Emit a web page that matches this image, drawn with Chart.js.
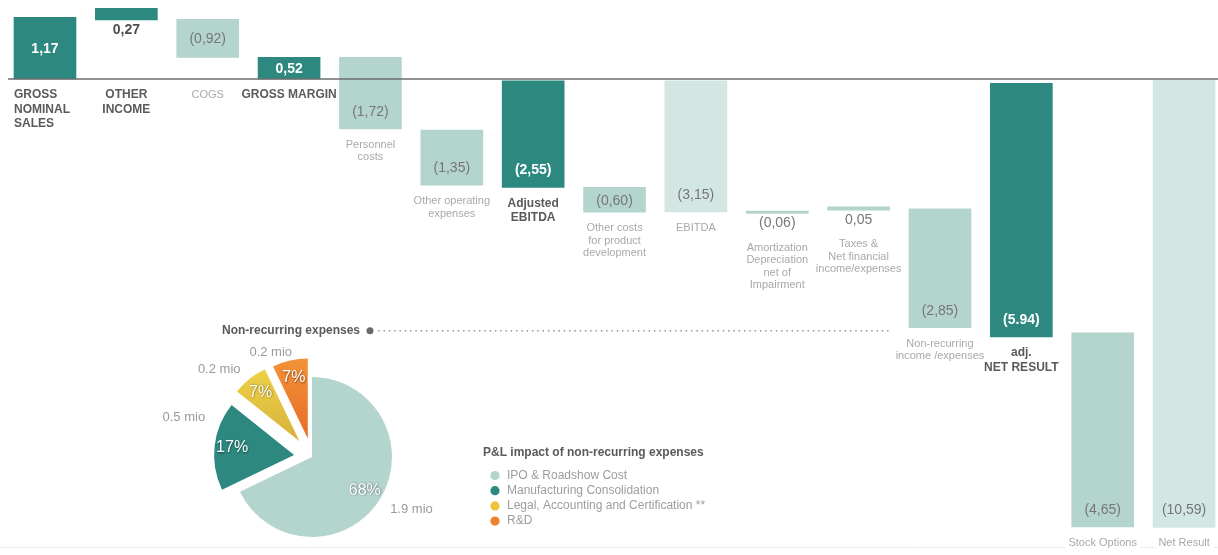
<!DOCTYPE html>
<html><head><meta charset="utf-8">
<script src="https://cdn.jsdelivr.net/npm/chart.js@4.4.1/dist/chart.umd.min.js"></script>
<style>
html,body{margin:0;padding:0;background:#fff;overflow:hidden;}
#wrap{position:relative;width:1218px;height:555px;}
canvas{position:absolute;left:0;top:0;}
#pie{pointer-events:none;}
</style></head><body>
<div id="wrap"><canvas id="main" width="1218" height="555"></canvas><canvas id="pie" width="1218" height="555"></canvas></div>
<script>
// ---------- DATA ----------
const categories = [
  ['GROSS','NOMINAL','SALES'],
  ['OTHER','INCOME'],
  ['COGS'],
  ['GROSS MARGIN'],
  ['Personnel','costs'],
  ['Other operating','expenses'],
  ['Adjusted','EBITDA'],
  ['Other costs','for product','development'],
  ['EBITDA'],
  ['Amortization','Depreciation','net of','Impairment'],
  ['Taxes &','Net financial','income/expenses'],
  ['Non-recurring','income /expenses'],
  ['adj.','NET RESULT'],
  ['Stock Options'],
  ['Net Result']
];
const values = [1.17, 0.27, -0.92, 0.52, -1.72, -1.35, -2.55, -0.60, -3.15, -0.06, 0.05, -2.85, -5.94, -4.65, -10.59];
const valueLabels = ['1,17','0,27','(0,92)','0,52','(1,72)','(1,35)','(2,55)','(0,60)','(3,15)','(0,06)','0,05','(2,85)','(5.94)','(4,65)','(10,59)'];
// bar extents as drawn in the picture (EUR mio)
const barStart = [0, 1.40, 0.51, 0, -1.18, -2.51, -2.56, -3.15, -3.14, -3.18, -3.10, -5.88, -6.10, -10.59, -10.60];
const barEnd   = [1.46, 1.67, 1.41, 0.51, 0.51, -1.21, -0.04, -2.56, -0.04, -3.12, -3.02, -3.07, -0.10, -6.00, -0.03];
const barKind  = ['total','total','cost','total','cost','cost','total','cost','result','cost','cost','cost','total','cost','result'];

const pieLabels  = ['IPO & Roadshow Cost','Manufacturing Consolidation','Legal, Accounting and Certification **','R&D'];
const pieValues  = [1.9, 0.5, 0.2, 0.2];
const piePercent = ['68%','17%','7%','7%'];
const pieAmount  = ['1.9 mio','0.5 mio','0.2 mio','0.2 mio'];

// ---------- STYLE ----------
const FONT = "'Helvetica Neue', Helvetica, Arial, 'Liberation Sans', sans-serif";
const kindColor = {total:'#2d8980', cost:'#b4d5ce', result:'#d2e7e4'};
const pieColors = ['#b4d5ce','#2d8980','#ebc63a','#f0822b'];
const pieGrad = [null, null, ['#f8dc4c','#d6b23a'], ['#f59c3a','#e86c26']];

const waterfallLabels = {
  id:'waterfallLabels',
  afterDatasetsDraw(chart, args, o){
    const ctx = chart.ctx;
    const meta = chart.getDatasetMeta(0);
    const y0 = chart.scales.y.getPixelForValue(0);
    ctx.save();
    // faint bottom line
    ctx.strokeStyle = '#ededed'; ctx.lineWidth = 1;
    ctx.beginPath(); ctx.moveTo(0, o.bottomLine + 0.5); ctx.lineTo(chart.width, o.bottomLine + 0.5); ctx.stroke();
    // zero axis line
    ctx.strokeStyle = '#6e6e6e'; ctx.lineWidth = 1.6;
    ctx.beginPath(); ctx.moveTo(o.axisStart, y0); ctx.lineTo(chart.width, y0); ctx.stroke();

    ctx.textBaseline = 'middle';
    meta.data.forEach((bar, i) => {
      const p = bar.getProps(['x','y','base','width'], true);
      const top = Math.min(p.y, p.base), bottom = Math.max(p.y, p.base);
      const kind = barKind[i];
      const pos = o.valuePos[i];
      let vy;
      if (pos === 'center') vy = (top + bottom) / 2 + 1;
      else if (pos === 'bottom') vy = bottom - 17;
      else vy = bottom + 10;
      // value label
      const inside = pos !== 'below';
      if (inside && kind === 'total') { ctx.fillStyle = '#ffffff'; ctx.font = 'bold 14px ' + FONT; }
      else if (kind === 'total') { ctx.fillStyle = '#4e4e4e'; ctx.font = 'bold 14px ' + FONT; }
      else { ctx.fillStyle = '#767676'; ctx.font = '14px ' + FONT; }
      ctx.textAlign = 'center';
      ctx.fillText(valueLabels[i], p.x, vy);
      // category label
      const bold = kind === 'total';
      const lh = bold ? 14.5 : 12.5;
      let ly;
      if (barStart[i] >= 0) ly = y0 + 16;
      else if (pos === 'below') ly = vy + 24;
      else ly = bottom + 16;
      ctx.font = (bold ? 'bold 12px ' : '11px ') + FONT;
      const left = o.leftAligned.includes(i);
      ctx.textAlign = left ? 'left' : 'center';
      const lx = left ? p.x - p.width / 2 : p.x;
      categories[i].forEach((line, k) => {
        const yy = ly + k * lh;
        const w = ctx.measureText(line).width;
        ctx.fillStyle = '#ffffff';
        if (Math.abs(yy - o.bottomLine) < 8) ctx.fillRect((left ? lx : lx - w/2) - 3, yy - 7, w + 6, 14);
        ctx.fillStyle = bold ? '#5a5a5a' : '#a9a9a9';
        ctx.fillText(line, lx, yy);
      });
    });
    // leader for non-recurring expenses
    const nr = meta.data[o.leaderBar].getProps(['x','y','base','width'], true);
    const ly = Math.max(nr.y, nr.base) + 3;
    ctx.font = 'bold 12px ' + FONT; ctx.fillStyle = '#5a5a5a'; ctx.textAlign = 'right';
    ctx.fillText('Non-recurring expenses', o.leaderStart - 10, ly);
    ctx.fillStyle = '#6a6a6a';
    ctx.beginPath(); ctx.arc(o.leaderStart, ly, 3.5, 0, Math.PI*2); ctx.fill();
    ctx.fillStyle = '#8a8a8a';
    const endX = nr.x - nr.width / 2 - 18;
    for (let x = o.leaderStart + 9; x <= endX; x += 5.3) {
      ctx.beginPath(); ctx.arc(x, ly, 0.85, 0, Math.PI*2); ctx.fill();
    }
    ctx.restore();
  }
};

new Chart(document.getElementById('main'), {
  type: 'bar',
  data: {
    datasets: [{
      data: barStart.map((s, i) => ({x: i, y: [s, barEnd[i]]})),
      backgroundColor: barKind.map(k => kindColor[k]),
      borderWidth: 0,
      barThickness: 62
    }]
  },
  options: {
    responsive: false,
    animation: false,
    layout: {padding: 0},
    scales: {
      x: {type: 'linear', display: false, offset: false, grid: {offset: false}, min: -0.553, max: 14.417},
      y: {display: false, min: -11.253, max: 1.868}
    },
    plugins: {
      legend: {display: false},
      tooltip: {enabled: false},
      waterfallLabels: {
        valuePos: ['center','below','center','center','bottom','bottom','bottom','center','bottom','below','below','bottom','bottom','bottom','bottom'],
        leftAligned: [0],
        axisStart: 8,
        bottomLine: 547,
        leaderBar: 11,
        leaderStart: 370
      }
    }
  },
  plugins: [waterfallLabels]
});

// ---------- PIE ----------
const explodePlugin = {
  id: 'explode',
  beforeDatasetDraw(chart, args, o) {
    args.meta.data.forEach((arc, i) => {
      if (arc._exploded) return;
      const d = o.distances[i] || 0;
      const orig = arc.draw;
      arc.draw = function(ctx, area) {
        const p = this.getProps(['startAngle','endAngle'], true);
        const mid = (p.startAngle + p.endAngle) / 2;
        ctx.save();
        ctx.translate(Math.cos(mid) * d, Math.sin(mid) * d);
        orig.call(this, ctx, area);
        ctx.restore();
      };
      arc._exploded = true;
    });
  }
};

const pieText = {
  id: 'pieText',
  afterDatasetsDraw(chart, args, o) {
    const ctx = chart.ctx;
    const meta = chart.getDatasetMeta(0);
    const dist = chart.options.plugins.explode.distances;
    ctx.save();
    ctx.textAlign = 'center'; ctx.textBaseline = 'middle';
    let cx = 0, cy = 0;
    meta.data.forEach((arc, i) => {
      const p = arc.getProps(['x','y','startAngle','endAngle','outerRadius'], true);
      cx = p.x; cy = p.y;
      const mid = (p.startAngle + p.endAngle) / 2;
      const d = (dist[i] || 0) + 0.78 * p.outerRadius;
      ctx.font = '16px ' + FONT;
      ctx.shadowColor = 'rgba(0,0,0,0.55)'; ctx.shadowBlur = 2; ctx.shadowOffsetX = 0.5; ctx.shadowOffsetY = 0.5;
      ctx.fillStyle = '#ffffff';
      ctx.fillText(piePercent[i], p.x + Math.cos(mid) * d, p.y + Math.sin(mid) * d);
      ctx.shadowColor = 'transparent'; ctx.shadowBlur = 0; ctx.shadowOffsetX = 0; ctx.shadowOffsetY = 0;
      const d2 = (dist[i] || 0) + p.outerRadius + 28;
      const n = o.nudge[i];
      ctx.font = '13px ' + FONT; ctx.fillStyle = '#9a9a9a';
      ctx.fillText(pieAmount[i], p.x + Math.cos(mid) * d2 + n[0], p.y + Math.sin(mid) * d2 + n[1]);
    });
    // legend
    const lx = cx + o.legendDx, ly = cy + o.legendDy;
    ctx.textAlign = 'left';
    ctx.font = 'bold 12px ' + FONT; ctx.fillStyle = '#5a5a5a';
    ctx.fillText('P&L impact of non-recurring expenses', lx, ly);
    pieLabels.forEach((lab, i) => {
      const yy = ly + 22.5 + i * 15.2;
      ctx.fillStyle = pieColors[i];
      ctx.beginPath(); ctx.arc(lx + 12, yy, 4.6, 0, Math.PI * 2); ctx.fill();
      ctx.font = '12px ' + FONT; ctx.fillStyle = '#9d9d9d';
      ctx.fillText(lab, lx + 24, yy);
    });
    ctx.restore();
  }
};

new Chart(document.getElementById('pie'), {
  type: 'pie',
  data: {
    labels: pieLabels,
    datasets: [{
      data: pieValues,
      backgroundColor: (c) => {
        const g = pieGrad[c.dataIndex];
        const area = c.chart.chartArea;
        if (!g || !area) return pieColors[c.dataIndex];
        const cy = (area.top + area.bottom) / 2;
        const grad = c.chart.ctx.createLinearGradient(0, cy - 100, 0, cy);
        grad.addColorStop(0, g[0]); grad.addColorStop(1, g[1]);
        return grad;
      },
      borderWidth: 0,
      radius: 80
    }]
  },
  options: {
    responsive: false,
    animation: false,
    radius: 80,
    layout: {padding: {left: 0, right: 594, top: 359, bottom: 0}},
    plugins: {
      legend: {display: false},
      tooltip: {enabled: false},
      explode: {distances: [0, 18, 20, 19]},
      pieText: {nudge: [[8,-5],[-3,-25],[-13,12],[-13,19]], legendDx: 171, legendDy: -4}
    }
  },
  plugins: [explodePlugin, pieText]
});
</script>
</body></html>
